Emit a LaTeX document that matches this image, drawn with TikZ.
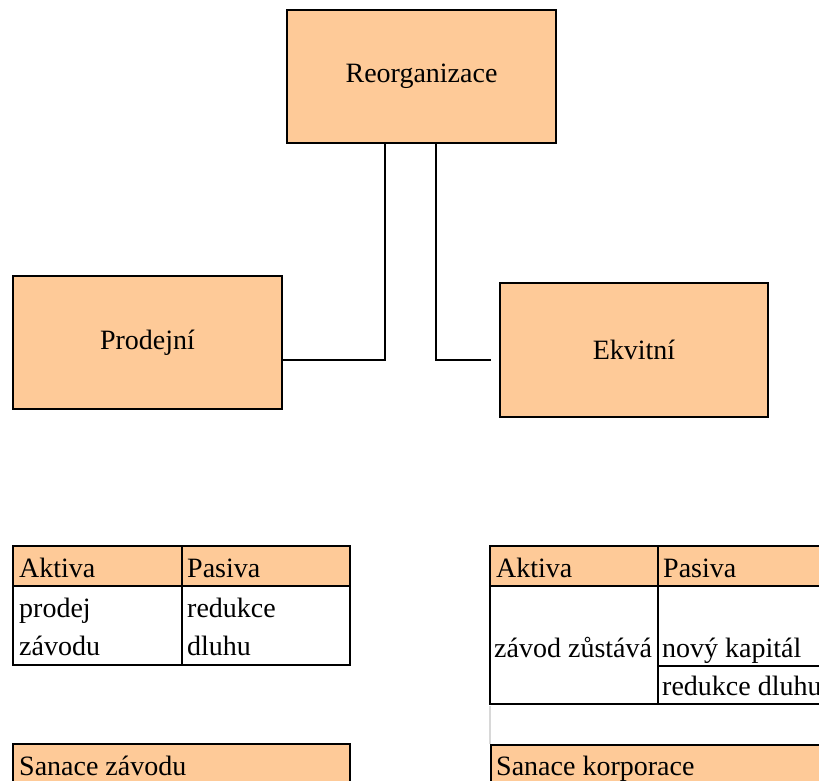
\documentclass[tikz,border=0pt]{standalone}
\usepackage{fontspec}
\setmainfont{Liberation Serif}
\newfontfamily\tms{Liberation Serif}
\definecolor{peach}{HTML}{FECA98}
\definecolor{lgray}{HTML}{D8D8D8}
\begin{document}
\begin{tikzpicture}[x=1pt,y=-1pt,
  box/.style={draw=black,line width=2.6pt,fill=peach,rectangle,inner sep=0pt,
    font=\tms\fontsize{28}{32}\selectfont},
  conn/.style={draw=black,line width=2.6pt},
  cell/.style={draw=black,line width=2.6pt},
  head/.style={draw=black,line width=2.6pt,fill=peach},
  txt/.style={anchor=base west,inner sep=0pt,font=\tms\fontsize{28}{32}\selectfont}]
\useasboundingbox (0,0) rectangle (819,780);
\clip (0,0) rectangle (819,780);
\fill[white] (0,0) rectangle (819,780);

% top graph
\node[box,minimum width=269pt,minimum height=133pt] (reo) at (421.5,76.5) {Reorganizace};
\node[box,minimum width=269pt,minimum height=133pt] (prod) at (147.5,342.5) {Prodejní};
\node[box,minimum width=268pt,minimum height=134pt] (ekv) at (634,350) {Ekvitní};
\coordinate (j1) at (385,360);
\coordinate (j2) at (436,360);
\coordinate (e2) at (491,360);
\draw[conn] (reo.south -| j1) -- (j1) -- (prod.east |- j1);
\draw[conn] (reo.south -| j2) -- (j2) -- (e2);

% left table
\filldraw[head] (13,546) rectangle (182,586);
\filldraw[head] (182,546) rectangle (350,586);
\draw[cell] (13,586) rectangle (182,665);
\draw[cell] (182,586) rectangle (350,665);
\node[txt] (la) at (19,577) {Aktiva};
\node[txt] (lp) at (187,577) {Pasiva};
\node[txt] (l1) at (19,617) {prodej};
\node[txt] (l2) at (19,655) {závodu};
\node[txt] (l3) at (187,617) {redukce};
\node[txt] (l4) at (187,655) {dluhu};

% right table
\filldraw[head] (490,546) rectangle (658,586);
\filldraw[head] (658,546) rectangle (840,586);
\draw[cell] (490,586) rectangle (658,704);
\draw[cell] (658,586) rectangle (840,666);
\draw[cell] (658,666) rectangle (840,704);
\node[txt] (ra) at (496,577) {Aktiva};
\node[txt] (rp) at (663,577) {Pasiva};
\node[txt] (r1) at (494,657) {závod zůstává};
\node[txt] (r2) at (662,657) {nový kapitál};
\node[txt] (r3) at (662,695) {redukce dluhu};

% light separator
\draw[lgray,line width=2pt] (490,706) -- (490,744);

% bottom boxes
\filldraw[head] (13,744) rectangle (350,820);
\filldraw[head] (491,745) rectangle (840,820);
\node[txt] (s1) at (19,775) {Sanace závodu};
\node[txt] (s2) at (496,775) {Sanace korporace};
\end{tikzpicture}
\end{document}
